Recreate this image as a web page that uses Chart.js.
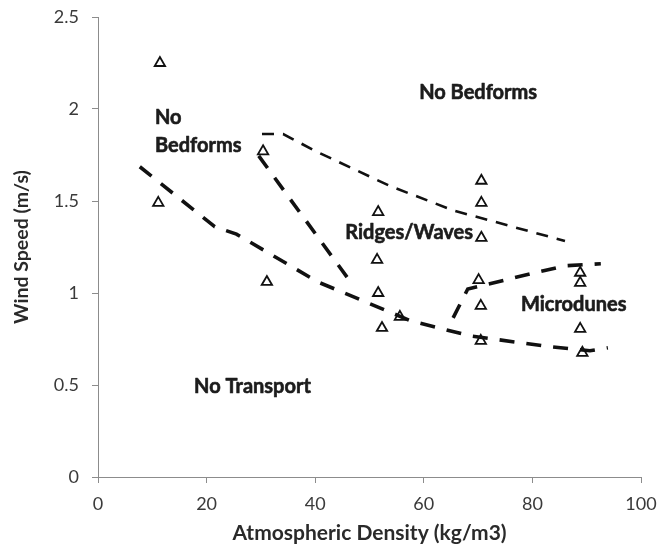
<!DOCTYPE html>
<html>
<head>
<meta charset="utf-8">
<script src="https://cdn.jsdelivr.net/npm/chart.js@4/dist/chart.umd.min.js"></script>
<style>
  html, body { margin: 0; padding: 0; background: #ffffff; }
  #wrap { width: 658px; height: 547px; }
</style>
</head>
<body>
<div id="wrap"><canvas id="chart" width="658" height="547"></canvas></div>
<script>
// Observed runs: atmospheric density (kg/m3) and wind speed (m/s)
const obsDensity = [11.4, 11.1, 30.4, 31.1, 51.6, 51.4, 51.6, 52.3, 55.6,
                    70.6, 70.6, 70.6, 70.1, 70.5, 70.5, 88.8, 88.8, 88.8, 89.2];
const obsSpeed   = [2.25, 1.49, 1.77, 1.06, 1.44, 1.18, 1.00, 0.81, 0.87,
                    1.61, 1.49, 1.30, 1.07, 0.93, 0.74, 1.11, 1.055, 0.805, 0.675];

// Transport threshold (lower boundary)
const thresholdDensity = [7.7, 21.5, 25.5, 40.5, 57.5, 68.5, 83.2, 90.6, 93.9];
const thresholdSpeed   = [1.686, 1.36, 1.32, 1.06, 0.85, 0.767, 0.708, 0.686, 0.702];

// Boundary between low-density "no bedforms" and ridges/waves
const leftEdgeDensity = [29.6, 47.0];
const leftEdgeSpeed   = [1.745, 1.04];

// Upper limit of bedform development
const upperDensity = [30.2, 34.1, 40.0, 53.8, 65.7, 86.0];
const upperSpeed   = [1.864, 1.864, 1.772, 1.581, 1.446, 1.283];

// Microdune field boundary
const microDensity = [65.4, 68.1, 80.5, 86.0, 92.6];
const microSpeed   = [0.865, 1.022, 1.11, 1.148, 1.159];

// Axis ticks
const xTicks = [0, 20, 40, 60, 80, 100];
const yTicks = [0, 0.5, 1, 1.5, 2, 2.5];

// Regime names, anchored in data units
const regimeLabels = [
  { lines: ['No Bedforms'], x: 70.0, y: 2.09, align: 'center' },
  { lines: ['No', 'Bedforms'], x: 10.5, y: 1.955, align: 'left' },
  { lines: ['Ridges/Waves'], x: 57.3, y: 1.326, align: 'center' },
  { lines: ['Microdunes'], x: 87.6, y: 0.936, align: 'center' },
  { lines: ['No Transport'], x: 28.45, y: 0.49, align: 'center' }
];

const toPoints = (xs, ys) => xs.map((x, i) => ({ x: x, y: ys[i] }));

const AXIS_GREY = '#8c8c8c';
const FONT = 'Lato, "DejaVu Sans", sans-serif';

const heavyLine = (xs, ys) => ({
  data: toPoints(xs, ys),
  showLine: true,
  borderColor: '#111111',
  borderWidth: 3.6,
  borderDash: [15, 12],
  pointRadius: 0,
  fill: false,
  tension: 0
});

const regimeLabelPlugin = {
  id: 'regimeLabels',
  afterDatasetsDraw(chart) {
    const { ctx, scales } = chart;
    ctx.save();
    ctx.font = 'bold 20px ' + FONT;
    ctx.fillStyle = '#1c1c1c';
    ctx.strokeStyle = '#1c1c1c';
    ctx.lineWidth = 0.6;
    ctx.lineJoin = 'round';
    ctx.textBaseline = 'middle';
    regimeLabels.forEach(lbl => {
      const px = scales.x.getPixelForValue(lbl.x);
      const py = scales.y.getPixelForValue(lbl.y);
      ctx.textAlign = lbl.align;
      lbl.lines.forEach((line, i) => {
        ctx.fillText(line, px, py + i * 28);
        ctx.strokeText(line, px, py + i * 28);
      });
    });
    ctx.restore();
  }
};

new Chart(document.getElementById('chart'), {
  type: 'scatter',
  data: {
    datasets: [
      {
        data: toPoints(obsDensity, obsSpeed),
        pointStyle: 'triangle',
        pointRadius: 6,
        pointBorderWidth: 1.8,
        pointBorderColor: '#111111',
        pointBackgroundColor: 'rgba(255,255,255,0)',
        showLine: false
      },
      heavyLine(thresholdDensity, thresholdSpeed),
      heavyLine(leftEdgeDensity, leftEdgeSpeed),
      {
        data: toPoints(upperDensity, upperSpeed),
        showLine: true,
        borderColor: '#111111',
        borderWidth: 2.6,
        borderDash: [12, 9],
        pointRadius: 0,
        fill: false,
        tension: 0
      },
      heavyLine(microDensity, microSpeed)
    ]
  },
  options: {
    responsive: false,
    animation: false,
    devicePixelRatio: 1,
    layout: { padding: { left: 0, top: 17, right: 17, bottom: 0 } },
    plugins: { legend: { display: false }, tooltip: { enabled: false } },
    scales: {
      x: {
        type: 'linear',
        min: 0, max: 100,
        afterBuildTicks: s => { s.ticks = xTicks.map(v => ({ value: v })); },
        afterFit: s => { s.height = 70; s.paddingLeft = 0; s.paddingRight = 0; },
        ticks: {
          callback: v => String(v),
          color: '#3a3a3a',
          font: { family: FONT, size: 18 },
          padding: 10,
          maxRotation: 0
        },
        grid: { display: true, drawOnChartArea: false, drawTicks: true, tickLength: 6, color: AXIS_GREY },
        border: { display: true, color: AXIS_GREY, width: 1 },
        title: {
          display: true,
          text: 'Atmospheric Density (kg/m3)',
          color: '#2a2a2a',
          font: { family: FONT, size: 21, weight: 'bold' },
          padding: { top: 0, bottom: 1 }
        }
      },
      y: {
        type: 'linear',
        min: 0, max: 2.5,
        afterBuildTicks: s => { s.ticks = yTicks.map(v => ({ value: v })); },
        afterFit: s => { s.width = 98; s.paddingTop = 0; s.paddingBottom = 0; },
        ticks: {
          callback: v => String(v),
          color: '#3a3a3a',
          font: { family: FONT, size: 18 },
          padding: 13
        },
        grid: { display: true, drawOnChartArea: false, drawTicks: true, tickLength: 6, color: AXIS_GREY },
        border: { display: true, color: AXIS_GREY, width: 1 },
        title: {
          display: true,
          text: 'Wind Speed (m/s)',
          color: '#2a2a2a',
          font: { family: FONT, size: 19.5, weight: 'bold' },
          padding: { top: 10, bottom: 0 }
        }
      }
    }
  },
  plugins: [regimeLabelPlugin]
});
</script>
</body>
</html>
